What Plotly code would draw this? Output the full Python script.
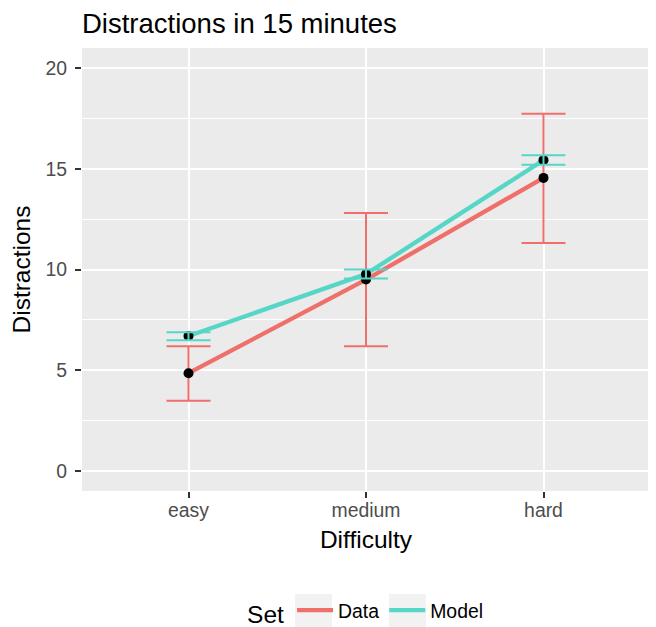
import plotly.graph_objects as go

difficulty = ["easy", "medium", "hard"]
data_mean = [4.85, 9.5, 14.55]
data_upper = [6.19, 12.81, 17.74]
data_lower = [3.48, 6.19, 11.32]
model_mean = [6.70, 9.77, 15.43]
model_upper = [6.88, 10.0, 15.68]
model_lower = [6.49, 9.55, 15.20]

red = "#EF6F6A"
teal = "#56D6C6"

fig = go.Figure()


def err(mean, upper, lower, color):
    return dict(type="data", symmetric=False,
                array=[u - m for u, m in zip(upper, mean)],
                arrayminus=[m - l for m, l in zip(mean, lower)],
                color=color, thickness=2, width=22)


fig.add_trace(go.Scatter(
    x=difficulty, y=data_mean, mode="lines", name="Data",
    line=dict(color=red, width=4.3),
    error_y=err(data_mean, data_upper, data_lower, red),
))
fig.add_trace(go.Scatter(
    x=difficulty, y=model_mean, mode="lines", name="Model",
    line=dict(color=teal, width=4.3),
))

for mean in (data_mean, model_mean):
    fig.add_trace(go.Scatter(
        x=difficulty, y=mean, mode="markers", showlegend=False,
        marker=dict(color="black", size=10), hoverinfo="skip",
    ))

# model error bars drawn on top of the points
fig.add_trace(go.Scatter(
    x=difficulty, y=model_mean, mode="markers", showlegend=False,
    marker=dict(size=1, color="rgba(0,0,0,0)"), hoverinfo="skip",
    error_y=err(model_mean, model_upper, model_lower, teal),
))

# legend key backgrounds (grey95), paper coordinates
W, H = 568, 443
for x0 in (287, 381):
    fig.add_shape(type="rect", xref="paper", yref="paper",
                  x0=(x0 - 74) / W, x1=(x0 + 37 - 74) / W,
                  y0=(483 - 586) / H, y1=(483 - 619) / H,
                  fillcolor="#F2F2F2", line=dict(width=0), layer="below")

FONT = "Liberation Sans, Arial, sans-serif"
fig.update_layout(
    width=656, height=627,
    margin=dict(l=74, r=14, t=40, b=144, autoexpand=False),
    paper_bgcolor="white", plot_bgcolor="#EBEBEB",
    font=dict(family=FONT, color="black"),
    title=dict(text="Distractions in 15 minutes", x=74 / 656, xanchor="left",
               y=1 - 15 / 627, yanchor="middle", font=dict(size=27.5, color="black")),
    xaxis=dict(
        title=dict(text="Difficulty", font=dict(size=24.5), standoff=10),
        range=[-0.6, 2.6], showgrid=True, gridcolor="white", gridwidth=2,
        ticks="outside", ticklen=6, tickwidth=1.5, tickcolor="#333333",
        tickfont=dict(size=19.4, color="#4D4D4D"), zeroline=False,
        ticklabelstandoff=-4,
    ),
    yaxis=dict(
        title=dict(text="Distractions", font=dict(size=24.5), standoff=12),
        range=[-1, 21], tickvals=[0, 5, 10, 15, 20],
        showgrid=True, gridcolor="white", gridwidth=2,
        minor=dict(tickvals=[2.5, 7.5, 12.5, 17.5], showgrid=True,
                   gridcolor="white", gridwidth=1, ticks=""),
        ticks="outside", ticklen=6, tickwidth=1.5, tickcolor="#333333",
        tickfont=dict(size=19.4, color="#4D4D4D"), zeroline=False,
        ticklabelstandoff=4,
    ),
    legend=dict(
        orientation="h", x=0.501, xanchor="center", y=-0.273, yanchor="middle",
        title=dict(text="Set", font=dict(size=24.5)),
        font=dict(size=19.4), itemwidth=36, bgcolor="rgba(0,0,0,0)",
    ),
)

fig.write_html("out.html")
